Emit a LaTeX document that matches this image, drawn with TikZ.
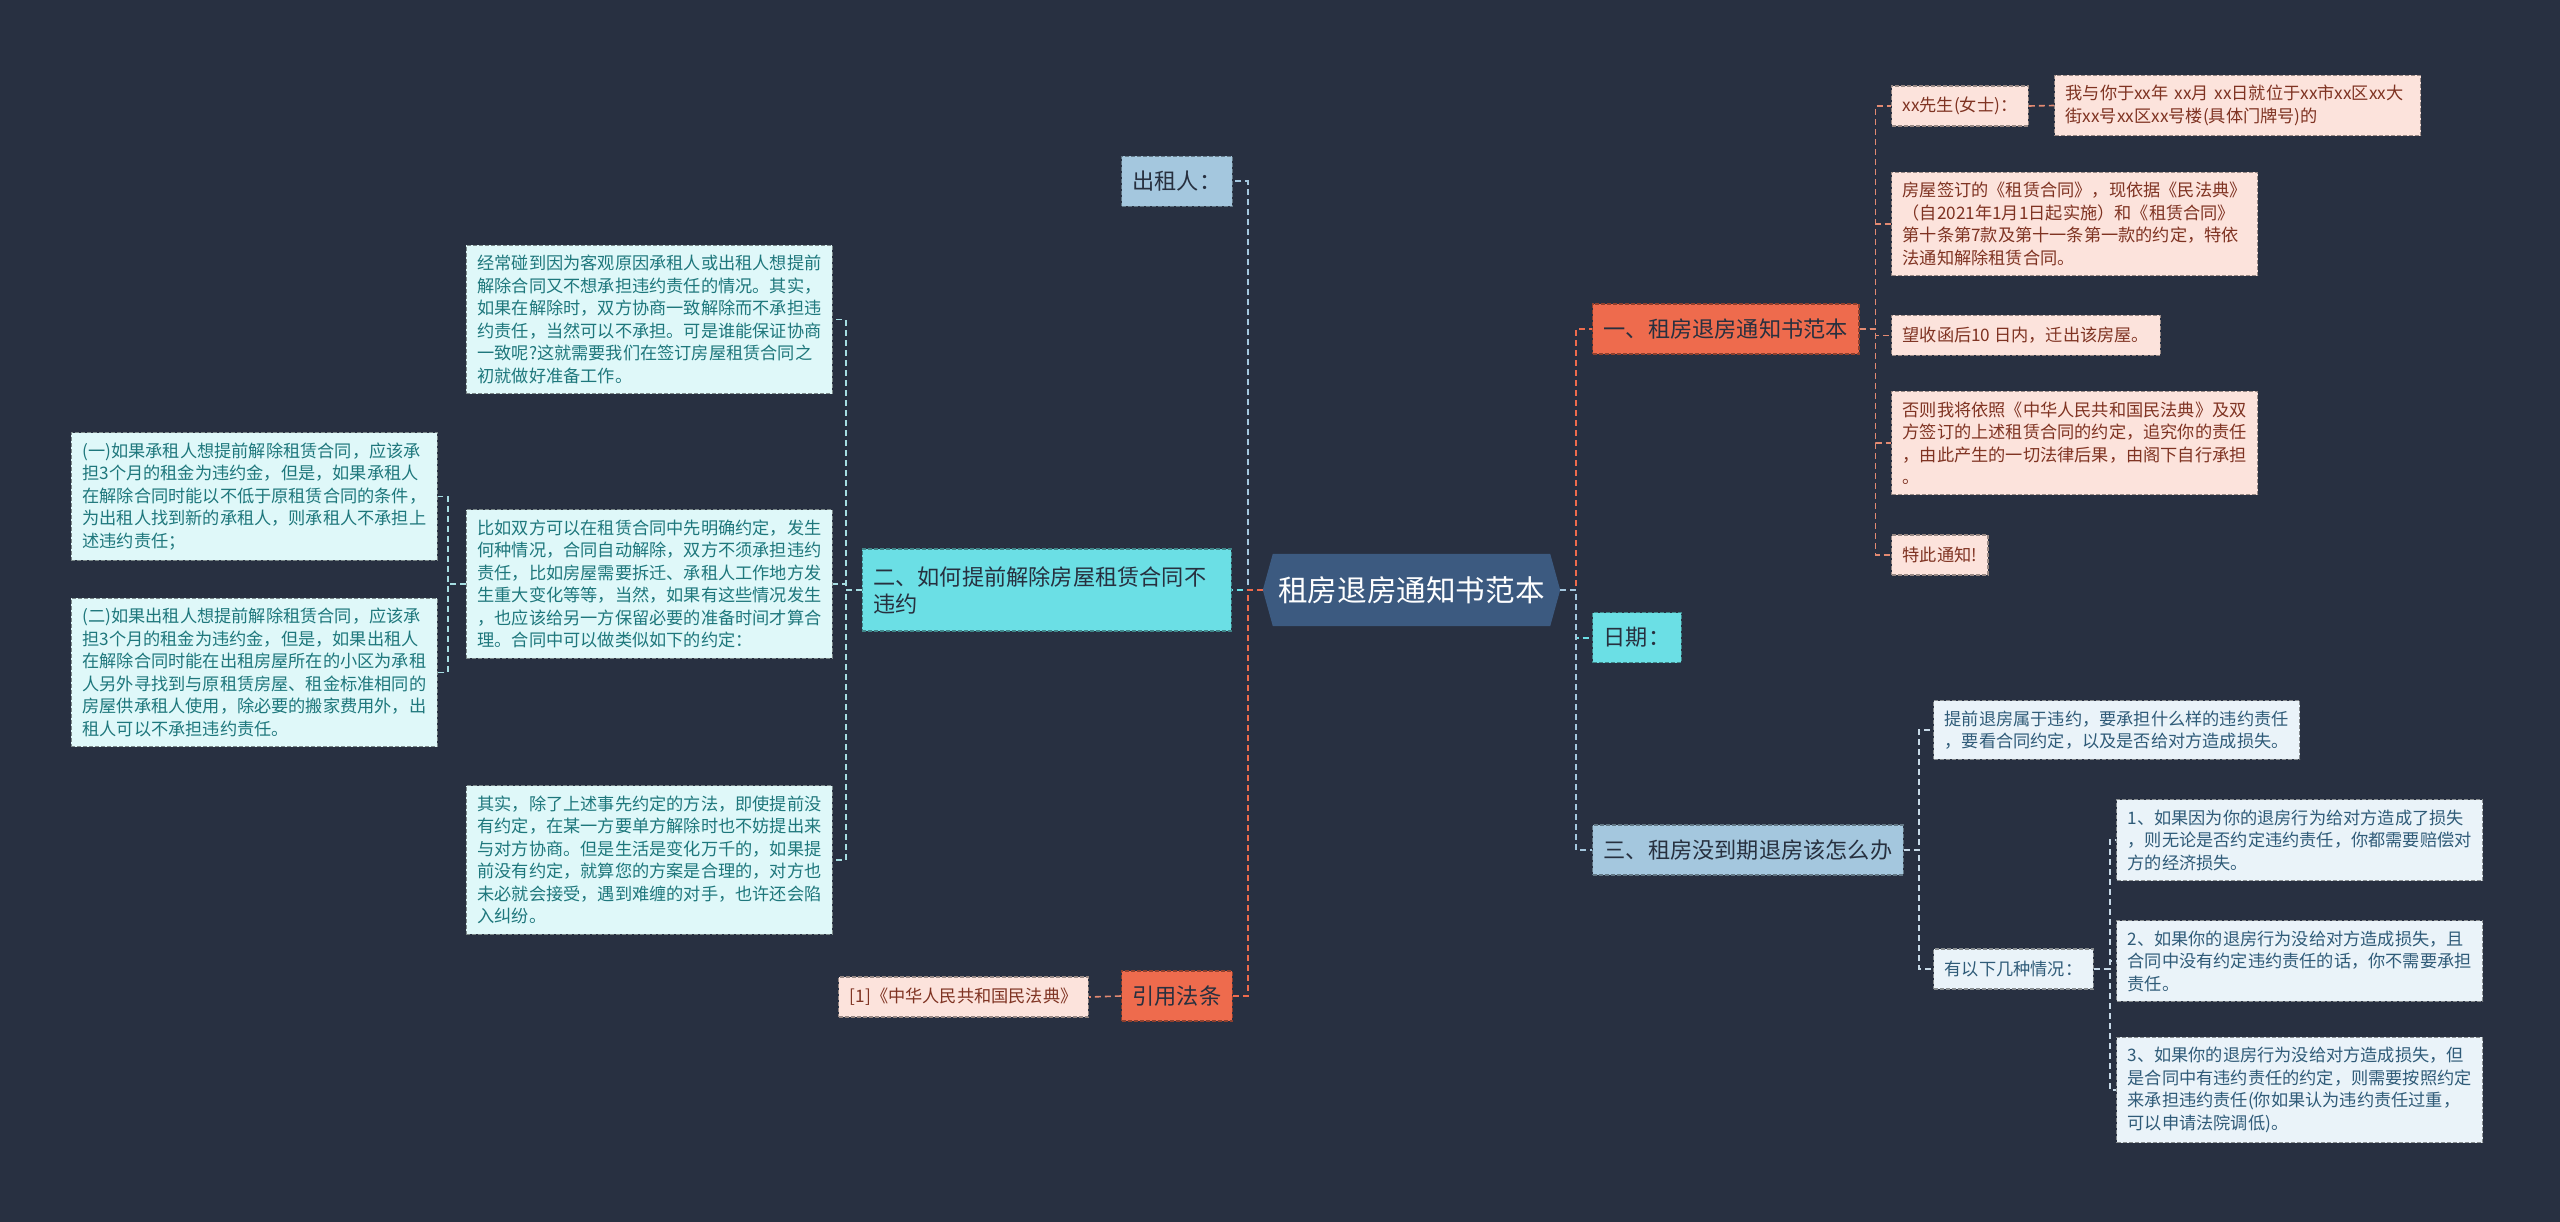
\documentclass[tikz,border=0pt]{standalone}
\usepackage{fontspec}
\setmainfont{Noto Sans CJK SC}
\usetikzlibrary{backgrounds}
\definecolor{bgc}{HTML}{283041}
\definecolor{hexc}{HTML}{3C5A80}
\definecolor{mblue}{HTML}{A4C7DE}
\definecolor{mcyan}{HTML}{6BDFE5}
\definecolor{morange}{HTML}{EE6B4D}
\definecolor{maintext}{HTML}{27303F}
\definecolor{pkfill}{HTML}{FCE3DC}
\definecolor{pktext}{HTML}{7F3322}
\definecolor{cyfill}{HTML}{DFF8F9}
\definecolor{cytext}{HTML}{1E777C}
\definecolor{blfill}{HTML}{EAF3F9}
\definecolor{bltext}{HTML}{2F5B78}
\definecolor{pkline}{HTML}{E38A72}
\definecolor{cyline}{HTML}{A6DDE2}
\definecolor{blline}{HTML}{C8DAE8}
\begin{document}
\begin{tikzpicture}[x=1pt,y=-1pt,
  conn/.style={line width=2pt, dash pattern=on 6pt off 4pt},
  sconn/.style={line width=1.6pt, dash pattern=on 6pt off 4pt},
  mainbox/.style={draw, line width=1.3pt, dash pattern=on 4pt off 2pt, inner xsep=11pt, inner ysep=0pt, minimum height=50pt, font=\fontsize{22.2pt}{27pt}\selectfont, text=maintext, align=left},
  leaf/.style={draw, line width=1.2pt, dash pattern=on 4pt off 2pt, inner xsep=11pt, inner ysep=10pt, minimum height=40pt, font=\fontsize{17.2pt}{22.5pt}\selectfont, align=left},
  wide/.style={text width=344pt},
  pk/.style={leaf, fill=pkfill, draw=pkfill!60!black, text=pktext},
  cy/.style={leaf, fill=cyfill, draw=cyfill!55!black, text=cytext},
  bl/.style={leaf, fill=blfill, draw=blfill!58!black, text=bltext},
  mb/.style={mainbox, fill=mblue, draw=mblue!60!black},
  mc/.style={mainbox, fill=mcyan, draw=mcyan!60!black},
  mo/.style={mainbox, fill=morange, draw=morange!60!black},
]
\begin{scope}[on background layer]
\fill[bgc] (0,0) rectangle (2560,1222);
\end{scope}
\useasboundingbox (0,0) rectangle (2560,1222);

% center
\node[minimum width=277pt, minimum height=72pt, inner sep=0pt, text=white, font=\fontsize{29.6pt}{34pt}\selectfont] (c) at (1411.5,590) {租房退房通知书范本};
\coordinate (cL) at ([xshift=-10pt]c.west);
\coordinate (cR) at ([xshift=10pt]c.east);
\begin{scope}[on background layer]
\fill[hexc] (cL) -- (c.north west) -- (c.north east) -- (cR) -- (c.south east) -- (c.south west) -- cycle;
\end{scope}

% main branches
\node[mb, anchor=east] (lessor) at (1233,181.5) {出租人：};
\node[mc, anchor=east, text width=347pt, minimum height=82pt] (two) at (1232,590) {二、如何提前解除房屋租赁合同不\\违约};
\node[mo, anchor=east] (law) at (1233,996) {引用法条};
\node[mo, anchor=west] (one) at (1592,329) {一、租房退房通知书范本};
\node[mc, anchor=west] (date) at (1592,637.5) {日期：};
\node[mb, anchor=west] (three) at (1592,850) {三、租房没到期退房该怎么办};

% pink leaves
\node[pk, anchor=west] (p0) at (1891,106) {xx先生(女士)：};
\node[pk, wide, anchor=west] (p0b) at (2054,105.5) {我与你于xx年~xx月~xx日就位于xx市xx区xx大\\街xx号xx区xx号楼(具体门牌号)的};
\node[pk, wide, anchor=west] (p1) at (1891,224) {房屋签订的《租赁合同》，现依据《民法典》\\（自2021年1月1日起实施）和《租赁合同》\\第十条第7款及第十一条第一款的约定，特依\\法通知解除租赁合同。};
\node[pk, anchor=west] (p2) at (1891,335.5) {望收函后10 日内，迁出该房屋。};
\node[pk, wide, anchor=west] (p3) at (1891,443) {否则我将依照《中华人民共和国民法典》及双\\方签订的上述租赁合同的约定，追究你的责任\\，由此产生的一切法律后果，由阁下自行承担\\。};
\node[pk, anchor=west] (p4) at (1891,555) {特此通知!};
\node[pk, anchor=east] (ref) at (1089,997) {[1]《中华人民共和国民法典》};

% blue leaves
\node[bl, wide, anchor=west] (q0) at (1933,730) {提前退房属于违约，要承担什么样的违约责任\\，要看合同约定，以及是否给对方造成损失。};
\node[bl, anchor=west] (q1) at (1933,969) {有以下几种情况：};
\node[bl, wide, anchor=west] (r1) at (2116,840) {1、如果因为你的退房行为给对方造成了损失\\，则无论是否约定违约责任，你都需要赔偿对\\方的经济损失。};
\node[bl, wide, anchor=west] (r2) at (2116,961) {2、如果你的退房行为没给对方造成损失，且\\合同中没有约定违约责任的话，你不需要承担\\责任。};
\node[bl, wide, anchor=west] (r3) at (2116,1090) {3、如果你的退房行为没给对方造成损失，但\\是合同中有违约责任的约定，则需要按照约定\\来承担违约责任(你如果认为违约责任过重，\\可以申请法院调低)。};

% cyan leaves
\node[cy, wide, anchor=east] (s0) at (833,319.5) {经常碰到因为客观原因承租人或出租人想提前\\解除合同又不想承担违约责任的情况。其实，\\如果在解除时，双方协商一致解除而不承担违\\约责任，当然可以不承担。可是谁能保证协商\\一致呢?这就需要我们在签订房屋租赁合同之\\初就做好准备工作。};
\node[cy, wide, anchor=east] (s1) at (833,584) {比如双方可以在租赁合同中先明确约定，发生\\何种情况，合同自动解除，双方不须承担违约\\责任，比如房屋需要拆迁、承租人工作地方发\\生重大变化等等，当然，如果有这些情况发生\\，也应该给另一方保留必要的准备时间才算合\\理。合同中可以做类似如下的约定：};
\node[cy, wide, anchor=east] (s2) at (833,860) {其实，除了上述事先约定的方法，即使提前没\\有约定，在某一方要单方解除时也不妨提出来\\与对方协商。但是生活是变化万千的，如果提\\前没有约定，就算您的方案是合理的，对方也\\未必就会接受，遇到难缠的对手，也许还会陷\\入纠纷。};
\node[cy, wide, anchor=east] (t1) at (438,496.5) {(一)如果承租人想提前解除租赁合同，应该承\\担3个月的租金为违约金，但是，如果承租人\\在解除合同时能以不低于原租赁合同的条件，\\为出租人找到新的承租人，则承租人不承担上\\述违约责任；};
\node[cy, wide, anchor=east] (t2) at (438,672.5) {(二)如果出租人想提前解除租赁合同，应该承\\担3个月的租金为违约金，但是，如果出租人\\在解除合同时能在出租房屋所在的小区为承租\\人另外寻找到与原租赁房屋、租金标准相同的\\房屋供承租人使用，除必要的搬家费用外，出\\租人可以不承担违约责任。};

% main connectors (left)
\draw[conn, mblue] (cL) -- ++(-15,0) |- (lessor.east);
\draw[conn, mcyan] (cL) -- ++(-15,0) |- (two.east);
\draw[conn, morange] (cL) -- ++(-15,0) |- (law.east);
% main connectors (right)
\draw[conn, morange] (cR) -- ++(16,0) |- (one.west);
\draw[conn, mcyan] (cR) -- ++(16,0) |- (date.west);
\draw[conn, mblue] (cR) -- ++(16,0) |- (three.west);

% leaf connectors
\foreach \n in {p0,p1,p2,p3,p4}
  \draw[sconn, pkline] (one.east) -- ++(16,0) |- (\n.west);
\draw[sconn, pkline] (p0.east) -- (p0b.west);
\draw[sconn, pkline] (law.west) -- (ref.east);
\foreach \n in {s0,s1,s2}
  \draw[sconn, cyline] (two.west) -- ++(-16,0) |- (\n.east);
\foreach \n in {t1,t2}
  \draw[sconn, cyline] (s1.west) -- ++(-18,0) |- (\n.east);
\foreach \n in {q0,q1}
  \draw[sconn, blline] (three.east) -- ++(15,0) |- (\n.west);
\foreach \n in {r1,r2,r3}
  \draw[sconn, blline] (q1.east) -- ++(16,0) |- (\n.west);
\end{tikzpicture}
\end{document}
